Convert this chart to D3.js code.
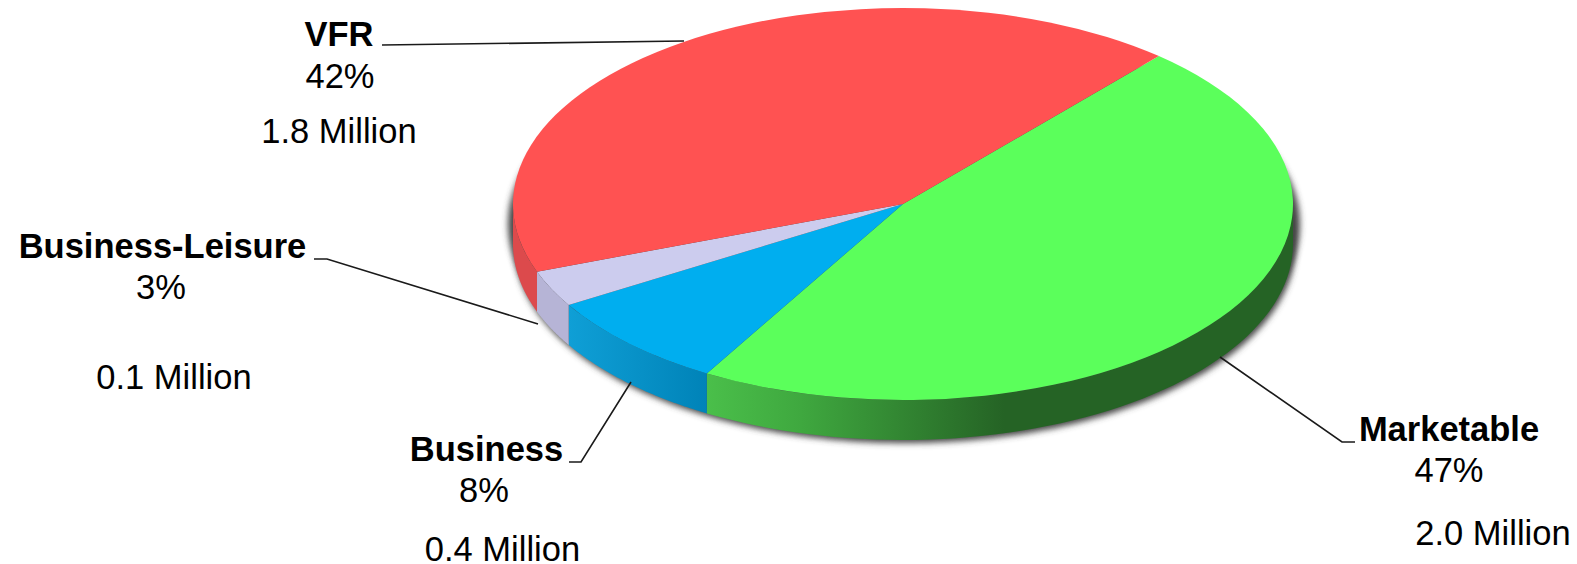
<!DOCTYPE html>
<html>
<head>
<meta charset="utf-8">
<script src="https://cdn.jsdelivr.net/npm/d3@7"></script>
<style>
  html, body { margin: 0; padding: 0; background: #fff; }
  svg { display: block; }
  text { font-family: "Liberation Sans", Arial, sans-serif; fill: #000; text-anchor: middle; }
</style>
</head>
<body>
<svg id="chart" width="1577" height="564"></svg>
<script>
// Visitor segments, clockwise around the pie
const categories = ["Marketable", "Business", "Business-Leisure", "VFR"];
const shares = [47, 8, 3, 42];
const millions = [2.0, 0.4, 0.1, 1.8];

// Drawing styles and layout, one entry per segment
const topColors = ["#5bff5b", "#00aeef", "#ccccee", "#ff5252"];
const wallStops = [
  [[0, "#4abf4a"], [0.3, "#3fa83f"], [0.95, "#256325"], [1, "#256325"]],
  [[0, "#0f9fd6"], [1, "#0083b8"]],
  [[0, "#b6b4d6"], [1, "#b6b4d6"]],
  [[0, "#dc4a4c"], [1, "#dc4a4c"]]
];
const labelLayout = [
  { x: 1449, name: 441, pctX: 1449, pct: 482, mil: 545, milX: 1493, leader: [[1355, 442], [1342, 442], [1220, 357]] },
  { x: 486.5, name: 461, pctX: 484, pct: 502, mil: 561, milX: 502.5, leader: [[569, 462], [581, 462], [631, 382]] },
  { x: 162.5, name: 258, pctX: 161, pct: 299, mil: 389, milX: 174, leader: [[314, 259], [327, 259], [538, 324]] },
  { x: 339, name: 46, pctX: 340, pct: 88, mil: 143, milX: 339, leader: [[382, 45], [684, 41]] }
];

const cx = 903, cy = 204, rx = 390, ry = 196, depth = 40;
const startAngle = 41 * Math.PI / 180;

const svg = d3.select("#chart");
const defs = svg.append("defs");

defs.append("filter").attr("id", "soft")
  .attr("x", "-5%").attr("y", "-5%").attr("width", "110%").attr("height", "115%")
  .append("feGaussianBlur").attr("stdDeviation", 3);

const pie = d3.pie().sort(null).startAngle(startAngle).endAngle(startAngle + 2 * Math.PI);
const slices = pie(shares);

// Pie angle (clockwise from twelve o'clock) to a point on the tilted rim
const rimX = a => cx + rx * Math.sin(a);
const rimY = (a, drop) => cy - ry * Math.cos(a) + drop;

// Soft shadow under the disc, showing just past the lower rim on both sides
const shadowLine = d3.line().x(a => rimX(a) + 2).y(a => rimY(a, depth + 3));
svg.append("path")
  .attr("d", shadowLine(d3.range(0, 2 * Math.PI, 0.02)) + "Z")
  .attr("fill", "#444")
  .attr("filter", "url(#soft)");
svg.append("ellipse")
  .attr("cx", cx + 1).attr("cy", cy + 20).attr("rx", rx + 6).attr("ry", ry)
  .attr("fill", "#444")
  .attr("filter", "url(#soft)");

// Side wall of each slice, limited to the part facing the viewer
const lo = Math.PI / 2, hi = 3 * Math.PI / 2;
const wallLine = d3.line().x(d => rimX(d.a)).y(d => rimY(d.a, d.drop));

slices.forEach((s, i) => {
  const a0 = Math.max(s.startAngle, lo), a1 = Math.min(s.endAngle, hi);
  if (a1 <= a0) return;
  const grad = defs.append("linearGradient")
    .attr("id", "wall" + i)
    .attr("gradientUnits", "userSpaceOnUse")
    .attr("x1", rimX(a1)).attr("x2", i === 0 ? 1020 : rimX(a0))
    .attr("y1", 0).attr("y2", 0);
  wallStops[i].forEach(([o, c]) => grad.append("stop").attr("offset", o).attr("stop-color", c));
  const steps = d3.range(0, 61).map(k => a0 + (a1 - a0) * k / 60);
  const pts = steps.map(a => ({ a, drop: 0 }))
    .concat(steps.slice().reverse().map(a => ({ a, drop: depth })));
  svg.append("path")
    .attr("d", wallLine(pts) + "Z")
    .attr("fill", `url(#wall${i})`);
});

// Top face: a flat pie squashed into the tilted ellipse
const arc = d3.arc().innerRadius(0).outerRadius(rx);
svg.append("g")
  .attr("transform", `translate(${cx},${cy}) scale(1,${ry / rx})`)
  .selectAll("path")
  .data(slices)
  .join("path")
  .attr("d", arc)
  .attr("fill", (d, i) => topColors[i]);

// Leader lines
const leader = d3.line();
svg.append("g")
  .selectAll("path")
  .data(labelLayout)
  .join("path")
  .attr("d", d => leader(d.leader))
  .attr("fill", "none")
  .attr("stroke", "#1a1a1a")
  .attr("stroke-width", 1.6);

// Labels: name, share and volume for each segment
const labels = svg.append("g").selectAll("g").data(categories).join("g");
labels.append("text")
  .attr("x", (d, i) => labelLayout[i].x)
  .attr("y", (d, i) => labelLayout[i].name)
  .attr("font-size", 34.5)
  .attr("font-weight", "bold")
  .text(d => d);
labels.append("text")
  .attr("x", (d, i) => labelLayout[i].pctX)
  .attr("y", (d, i) => labelLayout[i].pct)
  .attr("font-size", 34.5)
  .text((d, i) => shares[i] + "%");
labels.append("text")
  .attr("x", (d, i) => labelLayout[i].milX)
  .attr("y", (d, i) => labelLayout[i].mil)
  .attr("font-size", 34.5)
  .text((d, i) => millions[i].toFixed(1) + " Million");
</script>
</body>
</html>
